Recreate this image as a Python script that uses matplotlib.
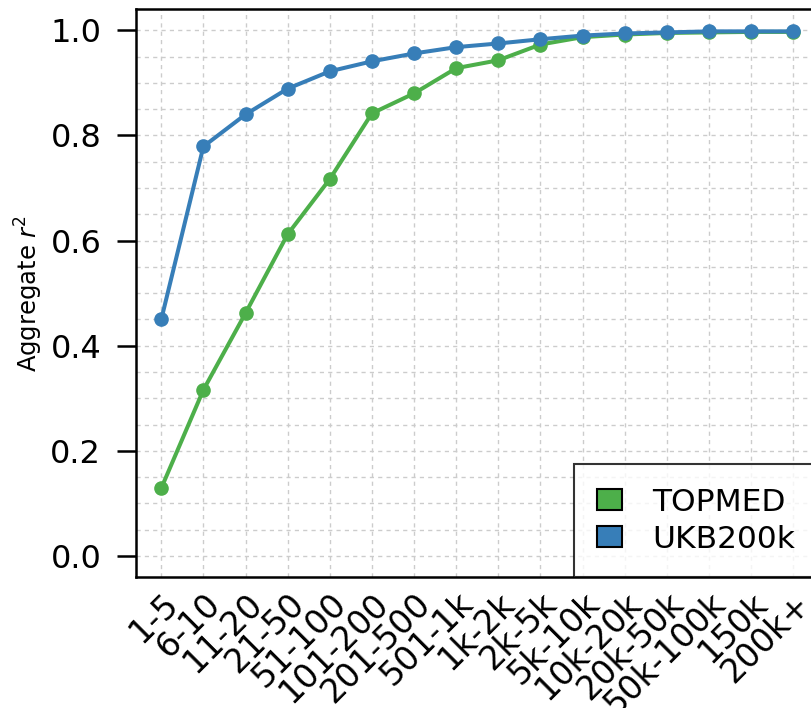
import matplotlib
matplotlib.use("Agg")
import matplotlib.pyplot as plt
from matplotlib.patches import Patch
from matplotlib.ticker import MultipleLocator

categories = ["1-5", "6-10", "11-20", "21-50", "51-100", "101-200", "201-500",
              "501-1k", "1k-2k", "2k-5k", "5k-10k", "10k-20k", "20k-50k",
              "50k-100k", "150k", "200k+"]
topmed = [0.129, 0.316, 0.462, 0.612, 0.717, 0.842, 0.880, 0.928, 0.943,
          0.973, 0.987, 0.992, 0.995, 0.996, 0.997, 0.997]
ukb200k = [0.450, 0.779, 0.840, 0.889, 0.922, 0.941, 0.956, 0.968, 0.975,
           0.983, 0.990, 0.994, 0.996, 0.998, 0.998, 0.998]
series_names = ["TOPMED", "UKB200k"]
colors = ["#4daf4a", "#377eb8"]

fig = plt.figure(figsize=(8.11, 7.08), dpi=100)
W, H = 811, 708
left, right, bottom, top = 136, 818.5, 577, 9.3
ax = fig.add_axes([left / W, (H - bottom) / H, (right - left) / W, (bottom - top) / H])

x = list(range(len(categories)))
ax.plot(x, topmed, color=colors[0], lw=2.9, marker="o", ms=9.5, zorder=3)
ax.plot(x, ukb200k, color=colors[1], lw=2.9, marker="o", ms=9.5, zorder=4)

ax.set_xlim(-0.6, 15.6)
ax.set_ylim(-0.04, 1.04)
ax.set_xticks(x)
ax.set_xticklabels(categories, rotation=45, ha="right", rotation_mode="anchor", fontsize=24)
ax.set_yticks([0.0, 0.2, 0.4, 0.6, 0.8, 1.0])
ax.set_yticklabels(["0.0", "0.2", "0.4", "0.6", "0.8", "1.0"], fontsize=23)
ax.yaxis.set_minor_locator(MultipleLocator(0.05))
ax.tick_params(axis="y", which="major", length=14, width=1.8, pad=11)
ax.tick_params(axis="y", which="minor", length=0)
ax.tick_params(axis="x", which="major", length=0, pad=7)

ax.grid(True, axis="x", which="major", ls=(0, (3, 3)), color="#cccccc", lw=1)
ax.grid(True, axis="y", which="both", ls=(0, (3, 3)), color="#cccccc", lw=1)
ax.set_axisbelow(True)
for s in ax.spines.values():
    s.set_linewidth(1.8)

ax.set_ylabel("Aggregate $r^2$", fontsize=17.5)
ax.yaxis.set_label_coords(-0.133, 0.5)

handles = [Patch(facecolor=c, edgecolor="black", lw=1.5) for c in colors]
leg = ax.legend(handles, series_names, loc="lower right", fontsize=22.5,
                frameon=True, fancybox=False, borderaxespad=0,
                handlelength=0.8, handleheight=0.65, handletextpad=0.95,
                borderpad=0.75, labelspacing=0.25)
leg.get_frame().set_edgecolor("black")
leg.get_frame().set_linewidth(1.5)

fig.savefig("out.png", dpi=100)
